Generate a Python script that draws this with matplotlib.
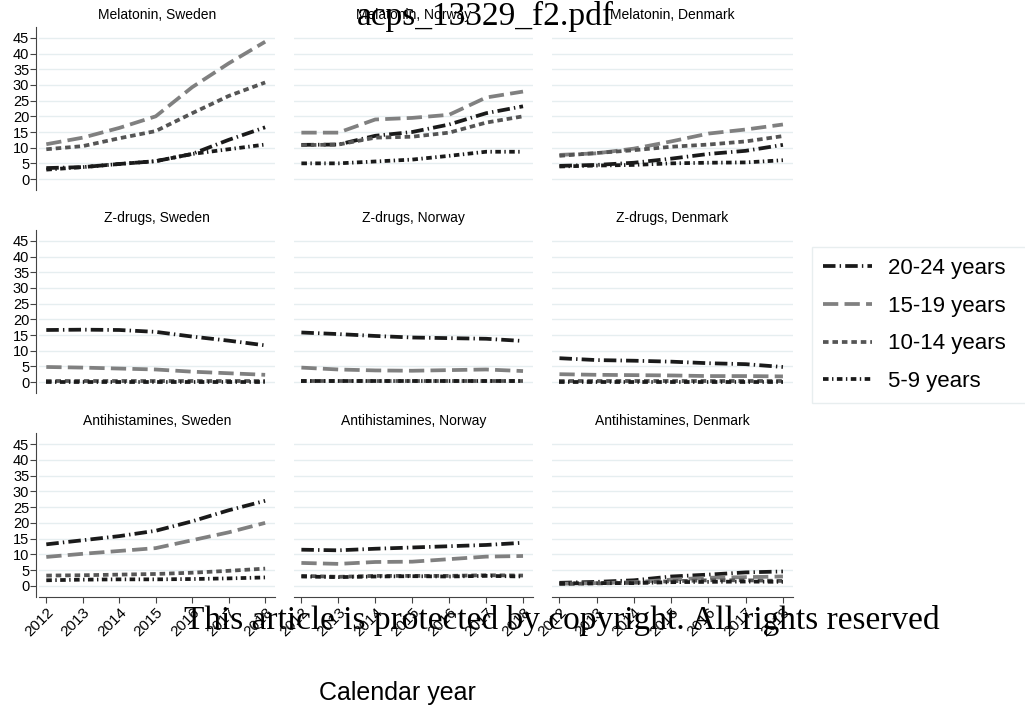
import matplotlib
matplotlib.use("Agg")
import matplotlib.pyplot as plt
from matplotlib.lines import Line2D

plt.rcParams['font.family'] = ['Liberation Sans', 'DejaVu Sans']
plt.rcParams['lines.scale_dashes'] = False

years = [2012, 2013, 2014, 2015, 2016, 2017, 2018]
groups = ['20-24 years', '15-19 years', '10-14 years', '5-9 years']
drugs = ['Melatonin', 'Z-drugs', 'Antihistamines']
countries = ['Sweden', 'Norway', 'Denmark']

# users per 1000; order in each list follows `groups`
melatonin_sweden = [
    [3.5, 3.8, 4.8, 5.7, 8.0, 12.5, 16.5],
    [11.1, 13.2, 16.3, 20.0, 29.3, 36.9, 43.8],
    [9.5, 10.5, 13.0, 15.3, 21.0, 26.5, 30.8],
    [3.0, 3.8, 4.8, 5.7, 8.0, 9.5, 11.0],
]
melatonin_norway = [
    [10.9, 11.0, 13.8, 15.0, 17.4, 21.0, 23.2],
    [14.8, 14.8, 19.0, 19.5, 20.5, 26.0, 27.9],
    [10.8, 11.0, 13.2, 13.5, 14.8, 18.0, 20.0],
    [5.0, 5.0, 5.6, 6.2, 7.4, 8.7, 8.7],
]
melatonin_denmark = [
    [4.2, 4.5, 5.2, 6.5, 8.0, 9.0, 10.9],
    [7.7, 8.2, 9.7, 12.0, 14.5, 15.8, 17.4],
    [7.4, 8.3, 9.2, 10.3, 11.0, 12.0, 13.7],
    [4.0, 4.3, 4.5, 5.0, 5.2, 5.3, 6.0],
]
zdrugs_sweden = [
    [16.6, 16.7, 16.6, 16.0, 14.5, 13.2, 11.7],
    [4.8, 4.6, 4.3, 4.0, 3.3, 2.8, 2.3],
    [0.3, 0.3, 0.3, 0.3, 0.3, 0.3, 0.3],
    [0.1, 0.1, 0.1, 0.1, 0.1, 0.1, 0.1],
]
zdrugs_norway = [
    [15.8, 15.3, 14.7, 14.2, 14.0, 13.8, 13.1],
    [4.6, 4.0, 3.7, 3.6, 3.8, 4.0, 3.5],
    [0.4, 0.4, 0.4, 0.4, 0.4, 0.4, 0.4],
    [0.2, 0.2, 0.2, 0.2, 0.2, 0.2, 0.2],
]
zdrugs_denmark = [
    [7.6, 7.0, 6.8, 6.5, 6.0, 5.7, 4.8],
    [2.5, 2.3, 2.2, 2.1, 1.9, 1.9, 1.8],
    [0.2, 0.2, 0.2, 0.2, 0.2, 0.2, 0.2],
    [0.1, 0.1, 0.1, 0.1, 0.1, 0.1, 0.1],
]
antihist_sweden = [
    [13.2, 14.5, 15.8, 17.5, 20.5, 24.0, 27.0],
    [9.2, 10.2, 11.1, 12.0, 14.5, 17.0, 20.0],
    [3.3, 3.4, 3.6, 3.8, 4.2, 4.8, 5.5],
    [1.8, 2.0, 2.1, 2.1, 2.2, 2.4, 2.7],
]
antihist_norway = [
    [11.5, 11.3, 11.8, 12.2, 12.6, 13.0, 13.7],
    [7.3, 7.0, 7.6, 7.7, 8.5, 9.3, 9.5],
    [3.2, 2.9, 3.2, 3.2, 3.2, 3.4, 3.3],
    [3.0, 2.8, 3.0, 3.1, 3.0, 3.2, 3.0],
]
antihist_denmark = [
    [1.0, 1.3, 1.8, 3.0, 3.6, 4.3, 4.6],
    [0.7, 0.9, 1.2, 2.0, 2.6, 2.8, 3.0],
    [0.6, 0.8, 1.0, 1.5, 1.8, 1.8, 1.6],
    [0.8, 0.9, 0.9, 1.2, 1.3, 1.4, 1.3],
]

panels = [
    [melatonin_sweden, melatonin_norway, melatonin_denmark],
    [zdrugs_sweden, zdrugs_norway, zdrugs_denmark],
    [antihist_sweden, antihist_norway, antihist_denmark],
]

styles = [
    dict(color='#1a1a1a', dashes=(9, 3, 1, 3)),
    dict(color='#808080', dashes=(11, 4.5)),
    dict(color='#555555', dashes=(4, 2.8)),
    dict(color='#1a1a1a', dashes=(4, 2.5, 1, 2.5)),
]

W, H = 1025, 707
fig = plt.figure(figsize=(W / 100, H / 100), dpi=100)

col_px = [(39, 275), (294, 533), (552, 793)]
row_px = [(27, 190), (230, 393), (433, 597)]

for r in range(3):
    for c in range(3):
        x0, x1 = col_px[c]
        y0, y1 = row_px[r]
        ax = fig.add_axes([x0 / W, 1 - y1 / H, (x1 - x0) / W, (y1 - y0) / H])
        for k in range(4):
            ax.plot(years, panels[r][c][k], lw=2.7, solid_capstyle='butt',
                    dash_capstyle='butt', **styles[k])
        ax.set_xlim(2011.8, 2018.27)
        ax.set_ylim(-3.5, 48.5)
        ax.set_yticks(range(0, 50, 5))
        ax.grid(axis='y', color='#e6eef0', lw=1)
        ax.set_axisbelow(True)
        ax.set_title(f'{drugs[r]}, {countries[c]}', fontsize=10, pad=6)
        for s in ['top', 'right']:
            ax.spines[s].set_visible(False)
        ax.spines['left'].set_visible(c == 0)
        ax.spines['left'].set_position(('outward', 2))
        ax.spines['bottom'].set_visible(r == 2)
        for s in ['left', 'bottom']:
            ax.spines[s].set_color('#444444')
        ax.tick_params(axis='y', left=(c == 0), labelleft=(c == 0),
                       labelsize=10.5, length=4, pad=1, color='#444444')
        ax.set_xticks(years)
        if r == 2:
            ax.set_xticklabels([str(y) for y in years], rotation=45,
                               ha='right', rotation_mode='anchor', fontsize=11)
            ax.tick_params(axis='x', length=4, pad=2, color='#444444')
        else:
            ax.tick_params(axis='x', bottom=False, labelbottom=False)

handles = [Line2D([], [], lw=2.7, **styles[k]) for k in range(4)]
leg = fig.legend(handles, groups, loc='upper left', mode='expand',
                 bbox_to_anchor=(812 / W, 1 - 247 / H, 230 / W, 0),
                 fontsize=16, frameon=True, fancybox=False,
                 handlelength=2.2, handletextpad=0.7, labelspacing=0.75,
                 borderpad=0.5, borderaxespad=0)
leg.get_frame().set_edgecolor('#e3eaec')
leg.get_frame().set_linewidth(1)

fig.text(397 / W, 1 - 693 / H, 'Calendar year', ha='center', va='center',
         fontsize=18)

# watermark texts present on the source page
fig.text(485 / W, 1 - 16 / H, 'acps_13329_f2.pdf', ha='center', va='center',
         fontsize=24, family=['Liberation Serif', 'DejaVu Serif'], zorder=10)
fig.text(562 / W, 1 - 620 / H,
         'This article is protected by copyright. All rights reserved',
         ha='center', va='center', fontsize=24,
         family=['Liberation Serif', 'DejaVu Serif'], zorder=10)

fig.savefig('out.png', dpi=100)
